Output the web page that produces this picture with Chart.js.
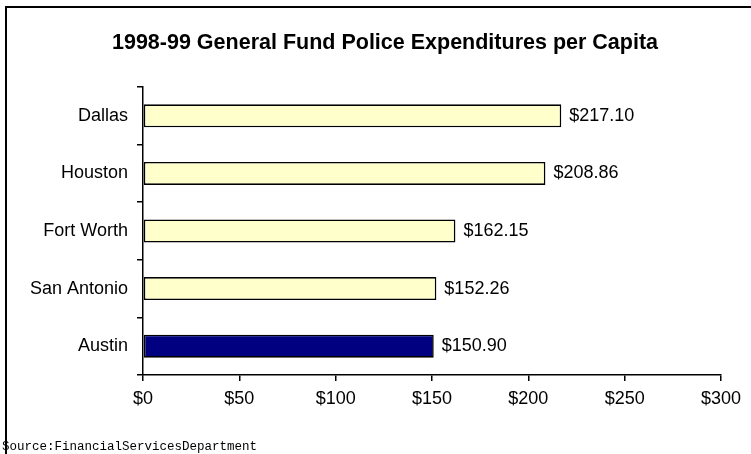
<!DOCTYPE html>
<html>
<head>
<meta charset="utf-8">
<script src="https://cdn.jsdelivr.net/npm/chart.js@4/dist/chart.umd.min.js"></script>
<style>
    html, body { margin: 0; padding: 0; background: #fff; }
    #wrap { width: 751px; height: 454px; position: relative; }
</style>
</head>
<body>
<div id="wrap"><canvas id="chart" width="751" height="454"></canvas></div>
<script>
// Данные графика
const cities = ['Dallas', 'Houston', 'Fort Worth', 'San Antonio', 'Austin'];
const perCapita = [217.10, 208.86, 162.15, 152.26, 150.90];
const barColors = ['#FFFFCC', '#FFFFCC', '#FFFFCC', '#FFFFCC', '#000080'];
const xTicks = [0, 50, 100, 150, 200, 250, 300];

const titleText = '1998-99 General Fund Police Expenditures per Capita';
const sourceText = 'Source:FinancialServicesDepartment';

const FONT = "'Liberation Sans', Arial, sans-serif";

const fmt = v => '$' + v.toFixed(2);

// Рамка, заголовок, подписи значений и источник
const extrasPlugin = {
    id: 'extras',
    afterDraw(chart) {
        const ctx = chart.ctx;
        ctx.save();
        // рамка (видны только верх и лево)
        ctx.strokeStyle = '#000';
        ctx.lineWidth = 2;
        ctx.beginPath();
        ctx.moveTo(6, 460);
        ctx.lineTo(6, 7);
        ctx.lineTo(760, 7);
        ctx.stroke();

        ctx.fillStyle = '#000';
        ctx.font = 'bold 21.5px ' + FONT;
        ctx.textAlign = 'center';
        ctx.textBaseline = 'middle';
        ctx.fillText(titleText, 385, 43);

        // подписи значений
        const meta = chart.getDatasetMeta(0);
        ctx.font = '18px ' + FONT;
        ctx.textAlign = 'left';
        meta.data.forEach((bar, i) => {
            ctx.fillText(fmt(perCapita[i]), bar.x + 8, bar.y);
        });

        ctx.font = "12.5px 'Liberation Mono', monospace";
        ctx.textBaseline = 'alphabetic';
        ctx.fillText(sourceText, 2, 450);
        ctx.restore();
    }
};

const ctx = document.getElementById('chart').getContext('2d');
new Chart(ctx, {
    type: 'bar',
    data: {
        labels: cities,
        datasets: [{
            data: perCapita,
            backgroundColor: barColors,
            borderColor: '#000',
            borderWidth: 1.6,
            borderSkipped: false,
            categoryPercentage: 0.8,
            barPercentage: 0.5
        }]
    },
    options: {
        indexAxis: 'y',
        responsive: false,
        animation: false,
        layout: { padding: { top: 87, right: 30, bottom: 0, left: 0 } },
        plugins: {
            legend: { display: false },
            tooltip: { enabled: false },
            title: { display: false }
        },
        scales: {
            x: {
                min: 0,
                max: 300,
                afterBuildTicks: s => { s.ticks = xTicks.map(v => ({ value: v })); },
                afterFit: s => { s.height = 79; },
                border: { display: true, color: '#000', width: 1.5 },
                grid: { drawOnChartArea: false, drawTicks: true, tickLength: 6, color: '#000', lineWidth: 1.5 },
                ticks: {
                    color: '#000',
                    padding: 7,
                    font: { family: FONT, size: 18 },
                    callback: v => '$' + v
                }
            },
            y: {
                afterFit: s => { s.width = 143; },
                border: { display: true, color: '#000', width: 1.5 },
                grid: { offset: true, drawOnChartArea: false, drawTicks: true, tickLength: 6, color: '#000', lineWidth: 1.5 },
                ticks: {
                    color: '#000',
                    padding: 9,
                    font: { family: FONT, size: 18 }
                }
            }
        }
    },
    plugins: [extrasPlugin]
});
</script>
</body>
</html>
